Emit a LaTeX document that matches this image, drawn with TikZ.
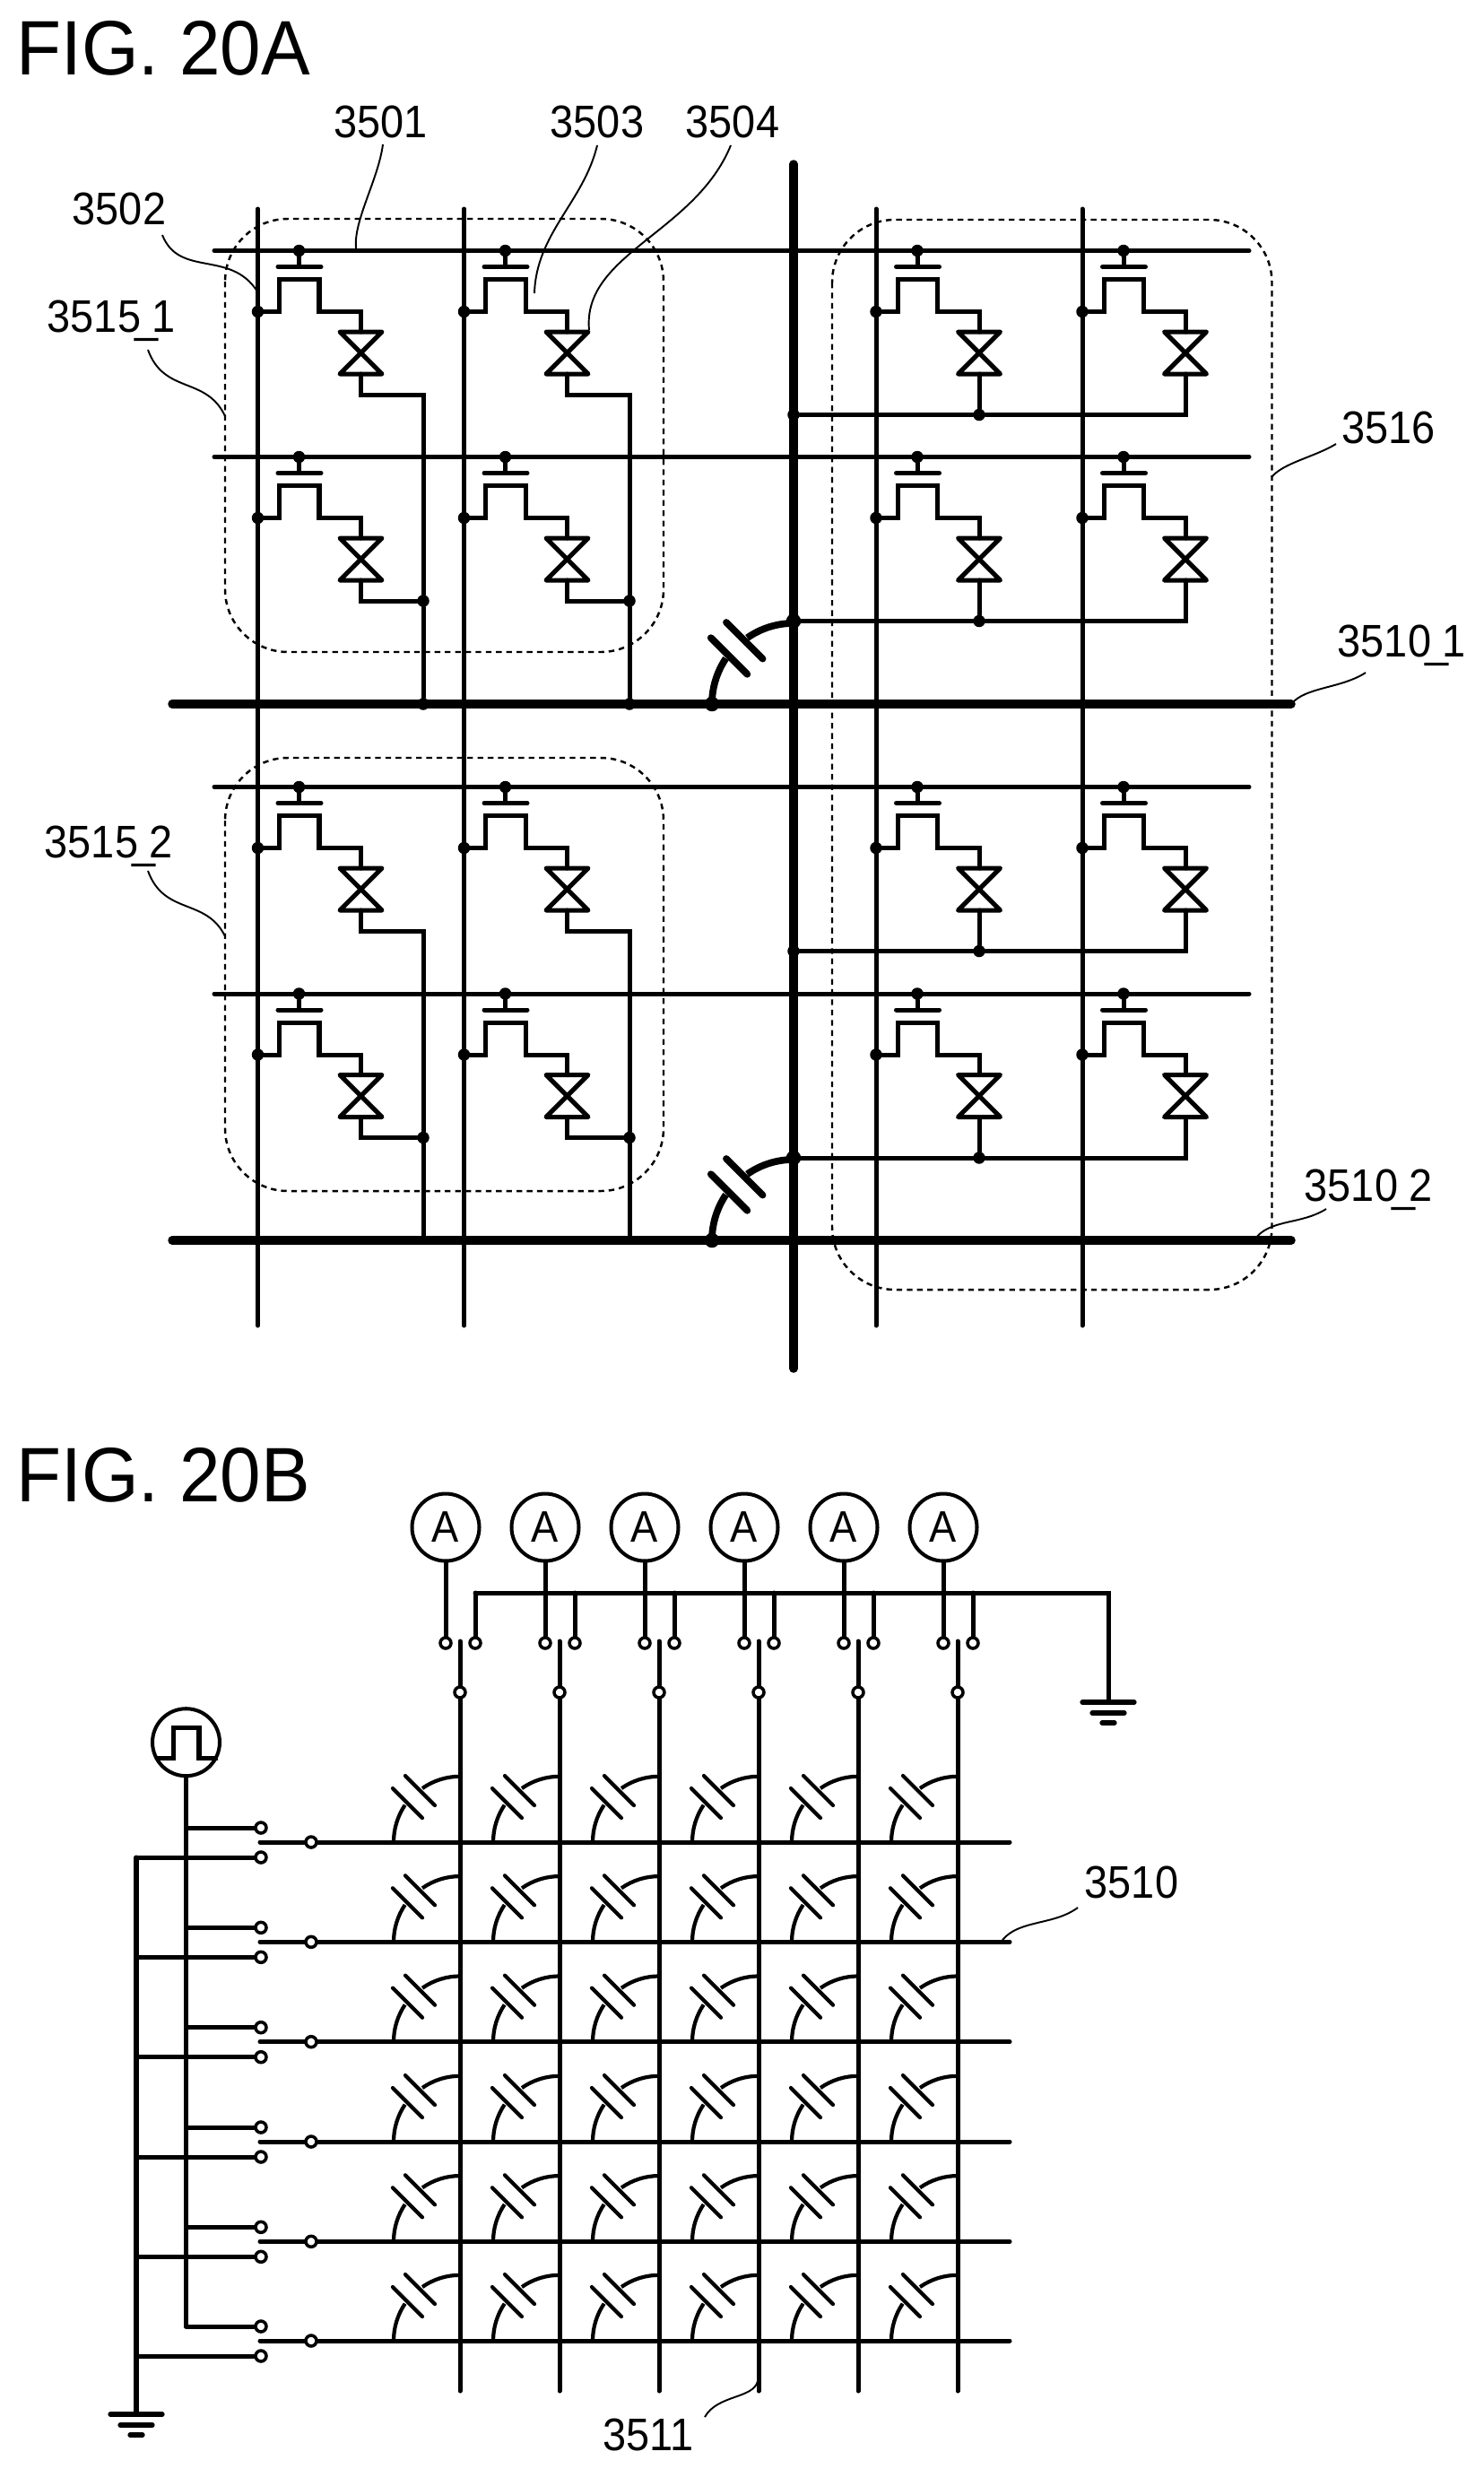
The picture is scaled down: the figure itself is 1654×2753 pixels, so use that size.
\documentclass[tikz,border=0pt]{standalone}
\usepackage{fontspec}
\setmainfont{Liberation Sans}
\newfontfamily\labfont[FakeStretch=0.92]{Liberation Sans}
\newfontfamily\figfont[FakeStretch=0.95]{Liberation Sans}
\begin{document}
\begin{tikzpicture}[x=0.02cm,y=-0.02cm]
      \useasboundingbox(0,0) rectangle (1654,2753);
      \tikzset{W/.style = {draw,line width=2.85pt,line cap=round,line join=miter}}
      \tikzset{T/.style = {draw,line width=5.4pt,line cap=round}}
      \tikzset{L/.style = {draw,line width=1.1pt}}
      \tikzset{G/.style = {draw,line width=1.4pt,dash pattern=on 3.6pt off 2.9pt,rounded corners=1.4cm}}
      \tikzset{D/.style = {shape=circle,fill=black,inner sep=0pt,minimum size=0.27cm}}
      \tikzset{CD/.style = {shape=circle,fill=black,inner sep=0pt,minimum size=0.33cm}}
      \tikzset{O/.style = {shape=circle,draw,fill=white,line width=2pt,inner sep=0pt,minimum size=0.24cm}}
      \tikzset{M/.style = {shape=circle,draw,line width=2.3pt,inner sep=0pt,minimum size=1.5cm,font=\fontsize{28}{28}\labfont}}
      \tikzset{N/.style = {inner sep=0pt,anchor=base,font=\fontsize{29}{29}\labfont}}
      \tikzset{F/.style = {inner sep=0pt,anchor=base west,font=\fontsize{49}{49}\figfont}}
      \tikzset{cell/.pic = {
        \node[D](-g) at (46,0) {};
        \node[D](-s) at (0,68) {};
        \coordinate (-b) at (46,18);
        \coordinate (-t) at (115,90.5);
        \coordinate (-d) at (115,137.5);
        \draw[W](-g) -- (-b);
        \draw[W](22.5,18) -- (70.5,18);
        \draw[W](-s) -- (24,68) -- (24,32) -- (68.5,32) -- (68.5,68) -- (115,68) -- (-t);
        \draw[W,line join=round](91.5,90.5) -- (138.5,90.5) -- (91.5,137.5) -- (138.5,137.5) -- cycle;
      }}
      \tikzset{capa/.pic = {
        \draw[line cap=butt](-74,0) arc[start angle=180,end angle=214,radius=74];
        \draw[line cap=butt](-42,-60) arc[start angle=235,end angle=270,radius=73.2];
        \draw[line cap=round](-75,-60) -- (-42,-27);
        \draw[line cap=round](-61,-74) -- (-28,-41);
      }}
      \tikzset{gnd/.pic = {
        \draw[line width=3pt,line cap=round](-29,0) -- (29,0);
        \draw[line width=3pt,line cap=round](-18,12) -- (18,12);
        \draw[line width=3pt,line cap=round](-7,23) -- (7,23);
      }}
      % FIG. 20A
      \node[F](fa) at (18,83) {FIG. 20A};
      \node[N](n3501) at (424.5,153) {3501};
      \node[N](n3503) at (666,153) {3503};
      \node[N](n3504) at (817,153) {3504};
      \node[N](n3502) at (133,250) {3502};
      \node[N](n35151) at (124,370) {3515\kern-4pt\_\kern-4pt 1};
      \node[N](n35152) at (121,956) {3515\kern-4pt\_\kern-4pt 2};
      \node[N](n3516) at (1548.5,494) {3516};
      \node[N](n35101) at (1563,732) {3510\kern-4pt\_\kern-4pt 1};
      \node[N](n35102) at (1526,1339) {3510\kern-4pt\_\kern-4pt 2};
      \foreach \i/\x in {0/287.5,1/517.5,2/977,3/1207} {
        \coordinate (vt\i) at (\x,233);
        \coordinate (vb\i) at (\x,1478);
        \draw[W](vt\i) -- (vb\i);
      }
      \foreach \r/\y in {0/279.5,1/509.5,2/877.5,3/1108} {
        \coordinate (hl\r) at (239,\y);
        \coordinate (hr\r) at (1393,\y);
        \draw[W](hl\r) -- (hr\r);
      }
      \foreach \i/\x in {0/287.5,1/517.5,2/977,3/1207}
        \foreach \r/\y in {0/279.5,1/509.5,2/877.5,3/1108}
          \pic (m\i\r) at (\x,\y) {cell};
      % thick lines
      \coordinate (tl0) at (192,785);
      \coordinate (tr0) at (1440,785);
      \coordinate (tl1) at (192,1383);
      \coordinate (tr1) at (1440,1383);
      \coordinate (vu) at (885,183);
      \coordinate (vd) at (885,1526);
      \draw[T](tl0) -- (tr0);
      \draw[T](tl1) -- (tr1);
      \draw[T](vu) -- (vd);
      % left block
      \foreach \i/\x in {0/472,1/702} {
        \coordinate (s\i0) at (\x,440.5);
        \node[D](j\i0) at (\x,670) {};
        \node[D](k\i0) at (\x,785) {};
        \draw[W](m\i0-d) |- (s\i0) -- (j\i0) -- (k\i0);
        \draw[W](m\i1-d) |- (j\i0);
        \coordinate (s\i2) at (\x,1038);
        \node[D](j\i2) at (\x,1268.5) {};
        \coordinate (k\i2) at (\x,1383);
        \draw[W](m\i2-d) |- (s\i2) -- (j\i2) -- (k\i2);
        \draw[W](m\i3-d) |- (j\i2);
      }
      % right block
      \foreach \r/\y/\s in {0/462.5/D,1/692.5/CD,2/1060.5/D,3/1291/CD} {
        \node[\s](p\r) at (885,\y) {};
        \node[D](q\r) at (1092,\y) {};
        \coordinate (u\r) at (1322,\y);
        \draw[W](p\r) -- (q\r) -- (u\r) -- (m3\r-d);
        \draw[W](m2\r-d) -- (q\r);
      }
      \node[CD](e0) at (794,785) {};
      \node[CD](e1) at (794,1383) {};
      \pic[line width=4.4pt,scale=1.23] at (885,785) {capa};
      \pic[line width=4.4pt,scale=1.23] at (885,1383) {capa};
      % groups
      \draw[G](251,244) rectangle (740,727);
      \draw[G](251,845) rectangle (740,1328);
      \draw[G](928,245) rectangle (1418.5,1438);
      % leaders
      \coordinate (a3501) at (427,161);
      \coordinate (b3501) at (397,277);
      \coordinate (a3503) at (666,162);
      \coordinate (b3503) at (596,327);
      \coordinate (a3504) at (815,162);
      \coordinate (b3504) at (657,368);
      \coordinate (a3502) at (181,262);
      \coordinate (b3502) at (287,325);
      \coordinate (a35151) at (165,390);
      \coordinate (b35151) at (251,464);
      \coordinate (a35152) at (165,971);
      \coordinate (b35152) at (251,1044);
      \coordinate (a3516) at (1490,495);
      \coordinate (b3516) at (1418,532);
      \coordinate (a35101) at (1523,750);
      \coordinate (b35101) at (1440,785);
      \coordinate (a35102) at (1479,1348);
      \coordinate (b35102) at (1402,1378.6);
      \draw[L](a3501) .. controls (422,200) and (394,246) .. (b3501);
      \draw[L](a3503) .. controls (651,225) and (598,260) .. (b3503);
      \draw[L](a3504) .. controls (775,260) and (649,283) .. (b3504);
      \draw[L](a3502) .. controls (200,310) and (257,278) .. (b3502);
      \draw[L](a35151) .. controls (183,440) and (230,419) .. (b35151);
      \draw[L](a35152) .. controls (183,1021) and (230,1000.7) .. (b35152);
      \draw[L](a3516) .. controls (1465,510) and (1432,515.7) .. (b3516);
      \draw[L](a35101) .. controls (1495,768) and (1456,765.7) .. (b35101);
      \draw[L](a35102) .. controls (1452,1365) and (1419.7,1359.5) .. (b35102);
      % FIG. 20B
      \node[F](fb) at (18,1674) {FIG. 20B};
      \node[N](n3510) at (1262,2116) {3510};
      \node[N](n3511) at (723,2732) {3511};
      \foreach \j/\x in {0/513,1/624,2/735,3/846,4/957,5/1068} {
        \node[M](a\j) at (\x-16,1703) {A};
        \node[O](ca\j) at (\x-16,1832) {};
        \node[O](cb\j) at (\x+17,1832) {};
        \node[O](cc\j) at (\x,1887) {};
        \coordinate (ct\j) at (\x,1830);
        \coordinate (cd\j) at (\x,2666);
        \coordinate (cu\j) at (\x+17,1776);
        \draw[W](a\j) -- (ca\j);
        \draw[W](cu\j) -- (cb\j);
        \draw[W](ct\j) -- (cc\j) -- (cd\j);
      }
      \coordinate (bend) at (1236,1776);
      \coordinate (gb) at (1236,1898);
      \draw[W](cu0) -- (bend) -- (gb);
      \pic at (gb) {gnd};
      \node[M](ps) at (207.5,1942.7) {};
      \draw[W,line cap=butt](175,1960) -- (193.6,1960) -- (193.6,1926) -- (222,1926) -- (222,1960) -- (242.5,1960);
      \foreach \k/\y in {0/2054,1/2165.3,2/2276.7,3/2388,4/2499.3,5/2610} {
        \coordinate (rl\k) at (290,\y);
        \coordinate (rr\k) at (1126,\y);
        \node[O](rb\k) at (347,\y) {};
        \node[O](ru\k) at (291,\y-16) {};
        \node[O](rd\k) at (291,\y+17) {};
        \coordinate (pu\k) at (207.5,\y-16);
        \coordinate (gd\k) at (152,\y+17);
        \draw[W](rl\k) -- (rb\k) -- (rr\k);
        \draw[W](pu\k) -- (ru\k);
        \draw[W](gd\k) -- (rd\k);
      }
      \draw[W](ps) -- (pu5);
      \coordinate (gc) at (152,2692);
      \draw[W](gd0) -- (gc);
      \pic at (gc) {gnd};
      \foreach \x in {513,624,735,846,957,1068}
        \foreach \y in {2054,2165.3,2276.7,2388,2499.3,2610}
          \pic[line width=2.4pt] at (\x,\y) {capa};
      \coordinate (a3510) at (1202,2127);
      \coordinate (b3510) at (1118,2163);
      \coordinate (a3511) at (786,2695);
      \coordinate (b3511) at (845,2655);
      \draw[L](a3510) .. controls (1175,2147) and (1137,2140.3) .. (b3510);
      \draw[L](a3511) .. controls (800,2670) and (840.3,2674.7) .. (b3511);
\end{tikzpicture}
\end{document}
